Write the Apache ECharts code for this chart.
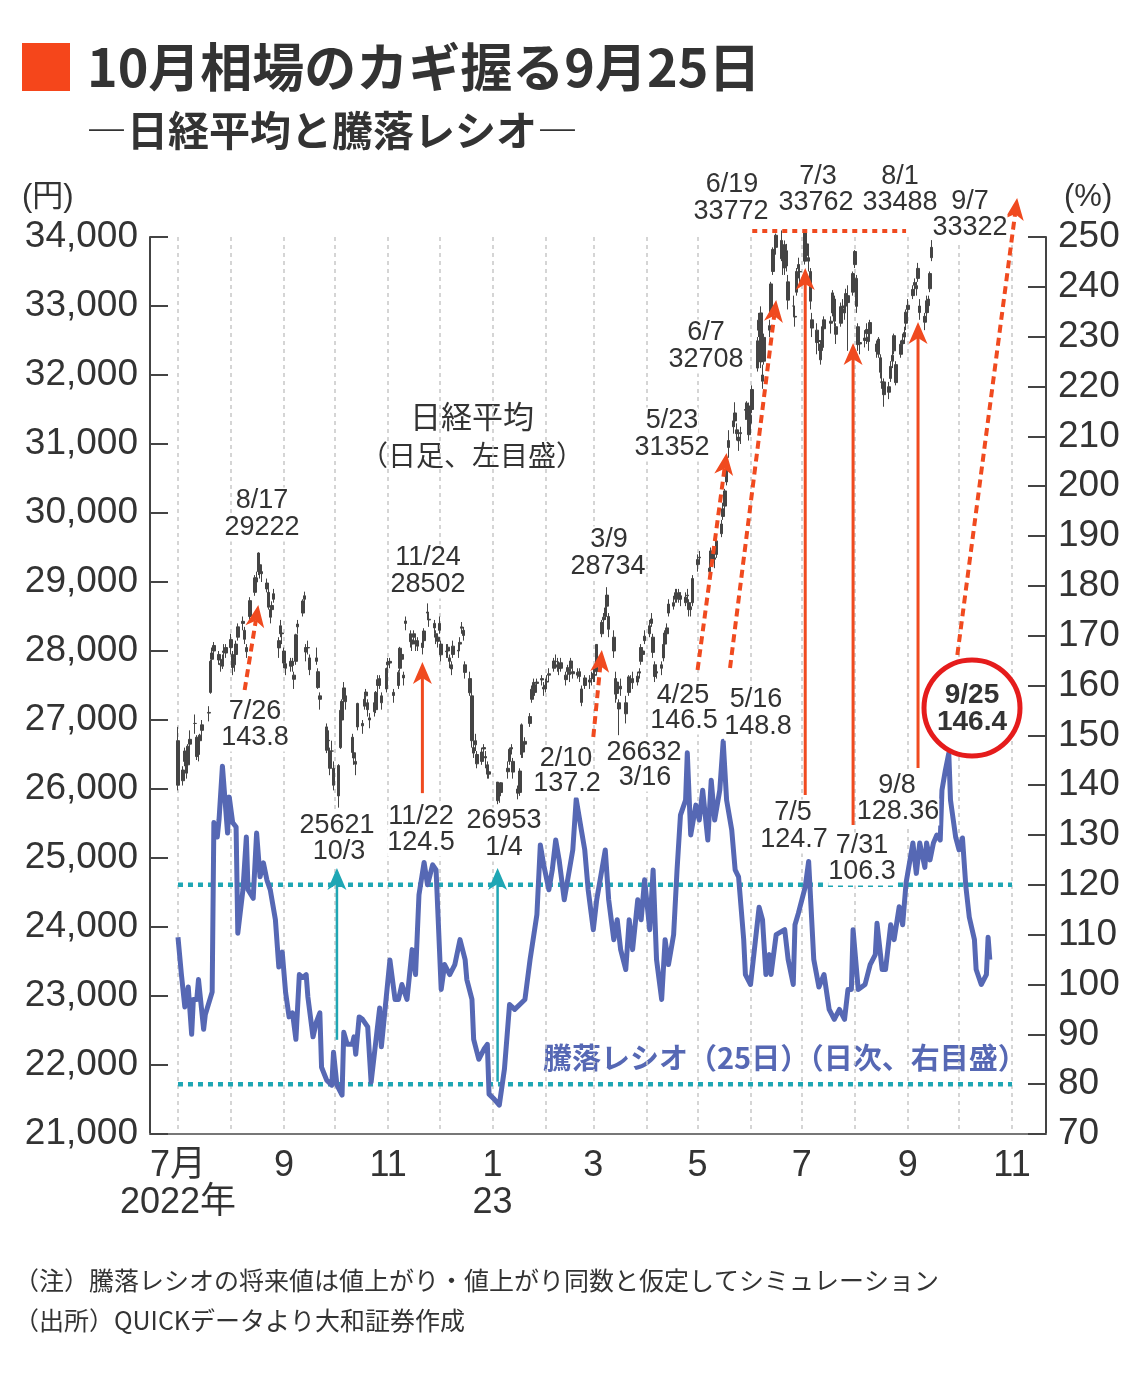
<!DOCTYPE html>
<html><head><meta charset="utf-8">
<script src="https://cdn.jsdelivr.net/npm/echarts@6/dist/echarts.min.js"></script>
<style>html,body{margin:0;padding:0;background:#fff;}#c{width:1140px;height:1377px;}</style>
</head><body><div id="c"></div>
<script>
// ---- Nikkei daily candles: [day, open, close, low, high] (as drawn on the left scale) ----
const nk2207=[[1,26700,26055,25980,26900],[4,26120,26275,26050,26330],[5,26400,26550,26330,26600],[6,26400,26230,26150,26480],[7,26350,26620,26300,26650],[8,26720,26650,26580,26850],[11,26950,26950,26800,27080],[12,26750,26470,26420,26780],[13,26500,26610,26400,26680],[14,26700,26780,26550,26800],[15,26850,26930,26750,27000],[19,27100,27110,26980,27200],[20,27400,27850,27380,27870],[21,27880,27970,27750,28050],[22,28000,28080,27900,28130],[25,27950,27870,27800,28000],[26,27800,27820,27700,27900],[27,27780,27880,27740,27950],[28,28000,27980,27850,28100],[29,28050,27970,27900,28100]];
const nk2208=[[1,28050,28165,27950,28250],[2,27950,27760,27650,28000],[3,27800,27910,27700,27980],[4,27950,28100,27900,28150],[5,28200,28350,28150,28400],[8,28400,28430,28300,28500],[9,28300,28170,28100,28350],[10,28050,27990,27900,28100],[12,28500,28730,28450,28780],[15,28850,29060,28800,29100],[16,29000,29060,28950,29150],[17,29150,29420,29100,29430],[18,29250,29130,29050,29280],[19,29150,29120,29000,29200],[22,28900,28985,28850,29050],[23,28850,28635,28600,28900],[24,28600,28490,28400,28650],[25,28600,28660,28500,28720],[26,28750,28830,28700,28900],[29,28150,28045,27900,28200],[30,28250,28365,28200,28450],[31,28250,28260,28100,28350]];
const nk2209=[[1,28000,27825,27750,28050],[2,27750,27815,27650,27900],[5,27850,27780,27700,27900],[6,27850,27790,27700,27900],[7,27650,27590,27450,27700],[8,27850,28235,27800,28250],[9,28350,28390,28250,28450],[12,28550,28725,28500,28750],[13,28750,28800,28650,28860],[14,28050,27985,27850,28100],[15,28050,28045,27950,28150],[16,27900,27730,27650,27950],[20,27900,27850,27800,28050],[21,27700,27470,27450,27750],[22,27350,27300,27150,27400],[26,26900,26560,26520,26950],[27,26700,26705,26500,26850],[28,26550,26300,26200,26600],[29,26550,26550,26300,26700],[30,26300,26055,25980,26400]];
const nk2210=[[3,25900,26340,25730,26360],[4,26600,27140,26580,27160],[5,27000,27270,26900,27300],[6,27300,27465,27250,27550],[7,27350,27265,27150,27400],[11,26750,26530,26450,26800],[12,26450,26525,26350,26600],[13,26400,26360,26200,26450],[14,26900,27240,26850,27250],[17,26950,26915,26800,27000],[18,27200,27300,27150,27350],[19,27350,27405,27250,27450],[20,27250,27150,27050,27300],[21,27000,27030,26880,27100],[24,27250,27120,27050,27300],[25,27150,27400,27100,27420],[26,27500,27585,27400,27650],[27,27600,27500,27450,27650],[28,27350,27250,27150,27400],[31,27450,27745,27400,27760]];
const nk2211=[[1,27800,27840,27700,27900],[2,27850,27825,27750,27900],[4,27400,27355,27250,27450],[7,27500,27690,27450,27720],[8,27750,28040,27700,28060],[9,27950,27880,27800,28000],[10,27650,27610,27500,27700],[11,28400,28435,28300,28500],[14,28250,28135,28050,28300],[15,28100,28160,28000,28200],[16,28250,28200,28100,28300],[17,28150,28100,28000,28200],[18,28150,28070,28000,28200],[21,28050,28115,27950,28200],[22,28150,28290,28100,28330],[24,28550,28565,28450,28690],[25,28450,28460,28350,28550],[28,28400,28335,28250,28450],[29,28250,28200,28100,28300],[30,28200,28140,28050,28250]];
const nk2212=[[1,28300,28400,28250,28500],[2,28100,27945,27850,28150],[5,28000,27990,27900,28100],[6,28000,28055,27900,28100],[7,27900,27850,27750,27950],[8,27800,27740,27650,27850],[9,27950,28070,27900,28150],[12,28000,28010,27900,28100],[13,28100,28125,28000,28200],[14,28350,28330,28250,28420],[15,28300,28225,28150,28350],[16,27800,27690,27600,27850],[19,27600,27395,27350,27700],[20,27350,26700,26600,27450],[21,26600,26520,26450,26700],[22,26700,26640,26550,26800],[23,26500,26365,26300,26550],[26,26400,26535,26350,26600],[27,26600,26580,26450,26650],[28,26450,26470,26300,26550],[29,26350,26215,26150,26400],[30,26250,26215,26150,26350]];
const nk2301=[[4,26100,25830,25780,26100],[5,25900,25935,25800,26000],[6,25950,26090,25900,26100],[10,26250,26300,26150,26400],[11,26400,26575,26350,26600],[12,26600,26580,26500,26650],[13,26400,26245,26150,26450],[16,26000,25940,25850,26050],[17,25950,26260,25900,26300],[18,26500,26930,26450,26950],[19,26650,26535,26450,26700],[20,26650,26690,26550,26750],[23,26950,27050,26900,27100],[24,27300,27445,27250,27500],[25,27450,27545,27400,27600],[26,27400,27510,27350,27550],[27,27550,27530,27450,27600],[30,27600,27580,27500,27650],[31,27450,27475,27350,27550]];
const nk2302=[[1,27450,27505,27400,27600],[2,27550,27560,27450,27650],[3,27650,27670,27550,27750],[6,27750,27855,27700,27900],[7,27850,27845,27750,27950],[8,27800,27765,27700,27900],[9,27750,27745,27650,27850],[10,27750,27830,27700,27900],[13,27650,27585,27500,27700],[14,27700,27760,27600,27800],[15,27700,27660,27550,27750],[16,27750,27855,27700,27900],[17,27700,27670,27600,27750],[20,27650,27690,27600,27750],[21,27700,27630,27550,27750],[22,27450,27255,27200,27500],[24,27500,27610,27450,27650],[27,27550,27580,27450,27650],[28,27600,27600,27500,27700]];
const nk2303=[[1,27600,27675,27550,27750],[2,27650,27655,27550,27750],[3,27700,28095,27650,28100],[6,28250,28415,28200,28450],[7,28450,28490,28350,28550],[8,28500,28625,28450,28700],[9,28650,28810,28600,28925],[10,28500,28315,28200,28550],[13,28200,28000,27900,28300],[14,27600,27375,27250,27700],[15,27550,27385,27300,27600],[16,27250,27160,26780,27300],[17,27450,27490,27350,27600],[20,27250,27090,26950,27350],[22,27400,27625,27350,27650],[23,27550,27575,27450,27650],[24,27600,27540,27450,27700],[27,27550,27635,27500,27700],[28,27700,27680,27600,27750],[29,27850,28050,27800,28100],[30,28000,27950,27850,28050],[31,28150,28215,28100,28300]];
const nk2304=[[3,28250,28365,28200,28450],[4,28400,28465,28350,28550],[5,28200,27980,27900,28250],[6,27800,27630,27550,27850],[7,27700,27680,27600,27800],[10,27750,27800,27650,27850],[11,27900,28095,27850,28150],[12,28100,28260,28050,28300],[13,28250,28335,28150,28400],[14,28550,28680,28500,28750],[17,28650,28700,28600,28800],[18,28750,28845,28700,28900],[19,28800,28790,28700,28900],[20,28750,28845,28700,28900],[21,28800,28750,28650,28850],[24,28700,28780,28650,28850],[25,28800,28810,28700,28900],[26,28700,28600,28500,28750],[27,28600,28640,28500,28700],[28,28700,29050,28650,29100]];
const nk2305=[[1,29250,29325,29150,29400],[2,29350,29360,29250,29450],[8,29200,29150,29050,29300],[9,29250,29450,29200,29500],[10,29400,29325,29250,29450],[11,29350,29330,29200,29450],[12,29400,29595,29350,29650],[15,29700,29840,29650,29900],[16,29950,30060,29900,30150],[17,30100,30320,30050,30350],[18,30450,30810,30400,30830],[19,30950,31050,30800,31200],[22,31250,31335,31150,31420],[23,31450,31335,31250,31605],[24,31150,31205,31050,31300],[25,31100,31045,30900,31200],[26,31150,31165,31000,31250],[29,31500,31490,31350,31600],[30,31450,31590,31350,31620],[31,31550,31135,31050,31600]];
const nk2306=[[1,31300,31415,31200,31500],[2,31500,31790,31450,31850],[5,32100,32495,32050,32550],[6,32650,32795,32550,32900],[7,32900,32190,32100,32995],[8,32000,31910,31800,32150],[9,32200,32545,32150,32600],[12,32650,32715,32550,32800],[13,32900,33320,32850,33350],[14,33500,33820,33450,33850],[15,33750,33800,33550,33900],[16,33850,34025,33750,34050],[19,33950,33685,33650,34095],[20,33700,33700,33450,33850],[21,33550,33890,33450,33950],[22,33800,33580,33500,33900],[23,33350,33085,32950,33450],[26,33000,33000,32850,33150],[27,32850,32840,32700,33000],[28,33200,33500,33150,33550],[29,33600,33540,33400,33700],[30,33500,33495,33300,33600]];
const nk2307=[[3,33650,34070,33600,34080],[4,33900,33735,33650,33950],[5,33700,33650,33500,33800],[6,33500,33070,32950,33550],[7,32800,32680,32550,32900],[10,32650,32470,32300,32750],[11,32500,32485,32350,32600],[12,32450,32220,32150,32500],[13,32400,32700,32350,32750],[14,32800,32670,32550,32850],[18,32750,32780,32600,32850],[19,32900,33190,32850,33230],[20,33100,32780,32700,33150],[21,32700,32590,32450,32750],[24,32750,32990,32700,33050],[25,33000,32970,32850,33100],[26,32900,32955,32800,33050],[27,33000,33180,32950,33250],[28,33150,33050,32350,33300],[31,33200,33470,33150,33500]];
const nk2308=[[1,33600,33790,33550,33810],[2,33400,32995,32900,33450],[3,32700,32440,32350,32750],[4,32450,32470,32300,32600],[7,32500,32535,32400,32650],[8,32600,32660,32450,32750],[9,32550,32485,32350,32650],[10,32600,32760,32550,32800],[14,32450,32340,32250,32500],[15,32300,32520,32250,32550],[16,32250,32040,31950,32300],[17,31900,31895,31800,32050],[18,31900,31715,31540,31950],[21,31750,31830,31650,31900],[22,31950,32125,31900,32200],[23,32200,32285,32100,32350],[24,32350,32570,32300,32600],[25,32150,31890,31850,32200],[28,32300,32445,32250,32500],[29,32450,32505,32350,32600],[30,32550,32615,32450,32700],[31,32750,32910,32650,32950]];
const nk2309=[[1,32950,33010,32850,33100],[4,33150,33240,33100,33300],[5,33300,33340,33200,33400],[6,33250,33295,33150,33350],[7,33400,33545,33350,33625],[8,33000,32905,32800,33100],[11,32850,32765,32650,32900],[12,32900,33075,32850,33150],[13,33100,33005,32900,33150],[14,33250,33470,33200,33500],[15,33700,33850,33650,33955]];

// ---- 騰落レシオ(25日): [day, value] ----
const rt2207=[[1,109.5],[3,102],[5,95.5],[7,99.5],[9,90],[10,97],[12,97],[13,101],[16,91],[17,94],[21,98.5],[22,132.5],[24,129.6],[25,133],[27,143.8],[30,130.4],[31,137.6]];
const rt2208=[[2,132.5],[4,131.6],[5,110.3],[8,119],[10,129.6],[11,119],[14,117.3],[16,130.4],[18,121.6],[20,124.4],[22,121],[24,119],[27,113],[29,103.5],[31,106.5]];
const rt2209=[[2,98.3],[4,93.5],[6,94.3],[8,89],[10,102],[12,101.4],[14,102],[15,97.5],[18,89.5],[20,92.5],[22,94.3],[23,83.4],[26,80.8],[29,79.8],[30,86.4]];
const rt2210=[[2,79.8],[5,77.8],[6,90.4],[8,88],[11,88],[12,89.5],[13,86],[15,93.5],[17,93],[20,91.5],[22,80.4],[27,95.3],[28,87.5]];
const rt2211=[[2,104.9],[5,97],[7,97],[9,100],[12,97],[15,107],[17,102],[19,118],[22,124.5],[24,120],[27,124],[29,123],[30,115]];
const rt2212=[[2,99],[4,104],[7,102],[10,104],[13,109],[16,105],[17,101],[20,97],[21,89],[24,85],[27,87],[29,88],[30,78]];
const rt2301=[[2,77],[5,75.8],[8,83],[11,96],[14,95],[17,96],[20,97],[23,105],[27,114],[29,128],[31,124]];
const rt2302=[[3,119],[5,123],[7,129],[9,125],[12,117],[15,123],[17,127],[19,137.2],[22,131],[24,127],[26,119]];
const rt2303=[[1,111],[3,117],[6,123],[8,127],[10,117],[13,109],[15,113],[17,107],[20,103],[22,113],[24,107],[27,117],[29,113],[31,121]];
const rt2304=[[3,111],[5,123],[7,105],[10,97],[12,109],[14,104],[17,110],[19,123],[21,134],[24,137],[25,146.5],[27,130],[30,136]];
const rt2305=[[2,133],[4,139],[7,129],[9,141],[11,133],[14,139],[16,148.8],[18,137],[21,131],[23,123],[25,121.6],[28,109],[29,102]];
const rt2306=[[1,100],[6,115.5],[8,113],[10,102],[12,106],[13,102],[16,110],[17,110],[21,111],[23,105],[26,100],[27,112],[29,114.3]];
const rt2307=[[3,119.6],[5,124.7],[8,105],[11,99.5],[14,102],[17,95],[20,93],[23,95],[26,93],[28,99],[30,99],[31,111]];
const rt2308=[[3,99],[7,100],[10,104],[13,106],[14,112.3],[17,103],[19,103],[22,112],[24,109],[27,115.6],[29,112],[31,120.4]];
const rt2309=[[4,128.4],[6,122.3],[8,128.4],[11,123.5],[12,128.4],[14,125],[16,128.4],[18,130],[20,129],[21,139],[23,143],[25,146.4],[26,137],[29,129.6]];
const rt2310=[[1,127],[3,129.4],[5,119.6],[7,113.5],[10,109],[11,103],[14,100],[17,102],[18,109.5],[19,105]];

// ---- axis ticks / labels ----
const leftAxisRange=[21000,34000,1000];
const rightAxisRange=[70,250,10];
const xTickLabels=[['2022-07','7月\n2022年'],['2022-09','9'],['2022-11','11'],['2023-01','1\n23'],['2023-03','3'],['2023-05','5'],['2023-07','7'],['2023-09','9'],['2023-11','11']];

// ---- arrows & guide lines: [from date, from value, to date, to value, style] ----
const priceArrows=[
 ['2022-08-09',27435,'2022-08-17',28667,0],
 ['2022-11-21',25940,'2022-11-21',27840,1],
 ['2023-03-01',26754,'2023-03-06',28014,0],
 ['2023-05-01',27725,'2023-05-18',30870,0],
 ['2023-05-20',27754,'2023-06-16',33087,0],
 ['2023-07-03',25913,'2023-07-03',33551,1],
 ['2023-07-31',25478,'2023-07-31',32464,1],
 ['2023-09-07',26304,'2023-09-07',32768,1],
 ['2023-09-30',27942,'2023-11-04',34565,0],
 ['2023-06-02',34087,'2023-08-31',34087,2]
];
const ratioGuides=[
 ['2022-07-01',120,'2023-11-01',120,4],
 ['2022-07-01',80,'2023-11-01',80,4]
];
const ratioArrows=[
 ['2022-10-02',88.9,'2022-10-02',123.4,3],
 ['2023-01-04',80.5,'2023-01-04',123.4,3]
];

const RED='#f04a1f', TEAL='#1fa6b4', BLUE='#5668b4', INK='#333';
const segStyles=[
 {color:RED,width:4,dash:[8,5],head:true},
 {color:RED,width:3,dash:null,head:true},
 {color:RED,width:4,dash:[5,5],head:false},
 {color:TEAL,width:2.5,dash:null,head:true},
 {color:TEAL,width:4.5,dash:[5,5],head:false}
];

const DAY=86400000;
function ts(s){const p=s.split('-').map(Number);return new Date(p[0],p[1]-1,p[2]).getTime();}
function pad(n){return n<10?'0'+n:''+n;}
function monthSeries(list){const out=[];list.forEach(([ym,arr])=>arr.forEach(r=>out.push([ts(ym+'-'+pad(r[0]))].concat(r.slice(1)))));return out;}

const nkData=monthSeries([['2022-07',nk2207],['2022-08',nk2208],['2022-09',nk2209],['2022-10',nk2210],['2022-11',nk2211],['2022-12',nk2212],['2023-01',nk2301],['2023-02',nk2302],['2023-03',nk2303],['2023-04',nk2304],['2023-05',nk2305],['2023-06',nk2306],['2023-07',nk2307],['2023-08',nk2308],['2023-09',nk2309]]);
const rtData=monthSeries([['2022-07',rt2207],['2022-08',rt2208],['2022-09',rt2209],['2022-10',rt2210],['2022-11',rt2211],['2022-12',rt2212],['2023-01',rt2301],['2023-02',rt2302],['2023-03',rt2303],['2023-04',rt2304],['2023-05',rt2305],['2023-06',rt2306],['2023-07',rt2307],['2023-08',rt2308],['2023-09',rt2309],['2023-10',rt2310]]);
function segData(list){return list.map(s=>[ts(s[0]),s[1],ts(s[2]),s[3],s[4]]);}

function renderSeg(params,api){
 const a=api.coord([api.value(0),api.value(1)]);
 const b=api.coord([api.value(2),api.value(3)]);
 const s=segStyles[api.value(4)];
 const dx=b[0]-a[0],dy=b[1]-a[1],len=Math.hypot(dx,dy),ux=dx/len,uy=dy/len,px=-uy,py=ux;
 const L=22,W=19,N=6;
 let e=b;
 if(s.head){e=[b[0]-ux*(L-N),b[1]-uy*(L-N)];}
 const ch=[{type:'line',shape:{x1:a[0],y1:a[1],x2:e[0],y2:e[1]},style:{stroke:s.color,lineWidth:s.width,lineDash:s.dash,lineCap:'butt'}}];
 if(s.head){
  ch.push({type:'polygon',shape:{points:[[b[0],b[1]],[b[0]-ux*L+px*W/2,b[1]-uy*L+py*W/2],[b[0]-ux*(L-N),b[1]-uy*(L-N)],[b[0]-ux*L-px*W/2,b[1]-uy*L-py*W/2]]},style:{fill:s.color}});
 }
 return {type:'group',children:ch};
}

const LAT='"Liberation Sans","Noto Sans CJK JP",sans-serif';
const CJK='"Noto Sans CJK JP","Liberation Sans",sans-serif';

const notes=[
 ['8/17',262,501],['29222',262,528],
 ['7/26',255,712],['143.8',255,738],
 ['25621',337,826],['10/3',339,852],
 ['11/24',428,558],['28502',428,585],
 ['11/22',421,817],['124.5',421,843],
 ['26953',504,821],['1/4',504,848],
 ['3/9',609,540],['28734',608,567],
 ['2/10',566,759],['137.2',567,784],
 ['26632',644,753],['3/16',645,778],
 ['5/23',672,421],['31352',672,448],
 ['4/25',683,696],['146.5',684,721],
 ['5/16',756,700],['148.8',758,727],
 ['6/7',706,333],['32708',706,360],
 ['6/19',732,185],['33772',731,212],
 ['7/3',818,177],['33762',816,203],
 ['8/1',900,177],['33488',900,203],
 ['9/7',970,202],['33322',970,228],
 ['7/5',793,813],['124.7',794,840],
 ['7/31',862,846],['106.3',862,872],
 ['9/8',897,786],['128.36',898,812]
];

const graphics=[
 {type:'rect',shape:{x:22,y:43,width:48,height:48},style:{fill:'#f5461b'}},
 {type:'text',x:87,y:67,style:{text:'10月相場のカギ握る9月25日',fontSize:52,fontWeight:'bold',fontFamily:CJK,fill:INK,align:'left',verticalAlign:'middle'}},
 {type:'text',x:86,y:130,style:{text:'―日経平均と騰落レシオ―',fontSize:41,fontWeight:'bold',fontFamily:CJK,fill:INK,align:'left',verticalAlign:'middle'}},
 {type:'text',x:22,y:197,style:{text:'(円)',fontSize:31,fontFamily:LAT,fill:INK,align:'left',verticalAlign:'middle'}},
 {type:'text',x:1064,y:197,style:{text:'(%)',fontSize:31,fontFamily:LAT,fill:INK,align:'left',verticalAlign:'middle'}},
 {type:'text',x:472,y:416,style:{text:'日経平均',fontSize:31,fontFamily:CJK,fill:INK,align:'center',verticalAlign:'middle'}},
 {type:'text',x:472,y:455,style:{text:'（日足、左目盛）',fontSize:28,fontFamily:CJK,fill:INK,align:'center',verticalAlign:'middle'}},
 {type:'text',x:543,y:1058,style:{text:'騰落レシオ（25日）（日次、右目盛）',fontSize:29,fontWeight:'bold',fontFamily:CJK,fill:BLUE,align:'left',verticalAlign:'middle'}},
 {type:'text',x:14,y:1280,style:{text:'（注）騰落レシオの将来値は値上がり・値上がり同数と仮定してシミュレーション',fontSize:25,fontFamily:CJK,fill:INK,align:'left',verticalAlign:'middle'}},
 {type:'text',x:14,y:1320,style:{text:'（出所）QUICKデータより大和証券作成',fontSize:25,fontFamily:CJK,fill:INK,align:'left',verticalAlign:'middle'}},
 {type:'circle',shape:{cx:972,cy:708,r:48},style:{fill:'#fff',stroke:'#e51c1c',lineWidth:5},z:50},
 {type:'text',x:972,y:695,z:51,style:{text:'9/25',fontSize:28,fontWeight:'bold',fontFamily:LAT,fill:INK,align:'center',verticalAlign:'middle'}},
 {type:'text',x:972,y:722,z:51,style:{text:'146.4',fontSize:28,fontWeight:'bold',fontFamily:LAT,fill:INK,align:'center',verticalAlign:'middle'}}
].concat(notes.map(n=>({type:'text',x:n[1],y:n[2],z:40,style:{text:n[0],fontSize:27,fontFamily:LAT,fill:INK,align:'center',verticalAlign:'middle',backgroundColor:'#fff'}})));

const labelMap={};xTickLabels.forEach(l=>labelMap[l[0]]=l[1]);
const chart=echarts.init(document.getElementById('c'),null,{renderer:'canvas'});
const yAxisCommon={type:'value',axisLine:{show:true,lineStyle:{color:'#444',width:2}},axisTick:{show:true,inside:true,length:18,lineStyle:{color:'#444',width:2}},splitLine:{show:false},axisLabel:{fontSize:37,color:INK,fontFamily:LAT,margin:12}};
chart.setOption({
 animation:false,
 backgroundColor:'#fff',
 grid:{left:150,right:94,top:237,bottom:243},
 xAxis:{type:'time',min:new Date(2022,5,14,15).getTime(),max:new Date(2023,10,20,21).getTime(),splitNumber:16,minInterval:28*DAY,maxInterval:31*DAY,
  axisLine:{show:true,onZero:false,lineStyle:{color:'#777',width:2}},axisTick:{show:false},
  splitLine:{show:true,lineStyle:{color:'#c8c8c8',width:1.5,type:[4,4]}},
  axisLabel:{fontSize:36,color:INK,fontFamily:LAT,lineHeight:37,margin:14,showMinLabel:true,showMaxLabel:true,
   formatter:function(v){const d=new Date(v);if(d.getDate()!==1||d.getHours()!==0)return '';const k=d.getFullYear()+'-'+pad(d.getMonth()+1);return labelMap[k]||'';}}},
 yAxis:[
  Object.assign({},yAxisCommon,{position:'left',min:leftAxisRange[0],max:leftAxisRange[1],interval:leftAxisRange[2]}),
  Object.assign({},yAxisCommon,{position:'right',min:rightAxisRange[0],max:rightAxisRange[1],interval:rightAxisRange[2]})
 ],
 series:[
  {type:'candlestick',name:'日経平均',data:nkData,encode:{x:0,y:[1,2,3,4]},xAxisIndex:0,yAxisIndex:0,barWidth:3,clip:false,z:2,
   itemStyle:{color:'#444',color0:'#444',borderColor:'#444',borderColor0:'#444',borderWidth:1}},
  {type:'custom',name:'guides',data:segData(ratioGuides),encode:{x:[0,2],y:[1,3]},yAxisIndex:1,renderItem:renderSeg,clip:false,z:3,silent:true},
  {type:'line',name:'騰落レシオ',data:rtData,yAxisIndex:1,showSymbol:false,symbol:'none',lineStyle:{color:BLUE,width:5,join:'round'},itemStyle:{color:BLUE},z:4},
  {type:'custom',name:'ratioArrows',data:segData(ratioArrows),encode:{x:[0,2],y:[1,3]},yAxisIndex:1,renderItem:renderSeg,clip:false,z:5,silent:true},
  {type:'custom',name:'priceArrows',data:segData(priceArrows),encode:{x:[0,2],y:[1,3]},yAxisIndex:0,renderItem:renderSeg,clip:false,z:5,silent:true}
 ],
 graphic:graphics
});
</script></body></html>
